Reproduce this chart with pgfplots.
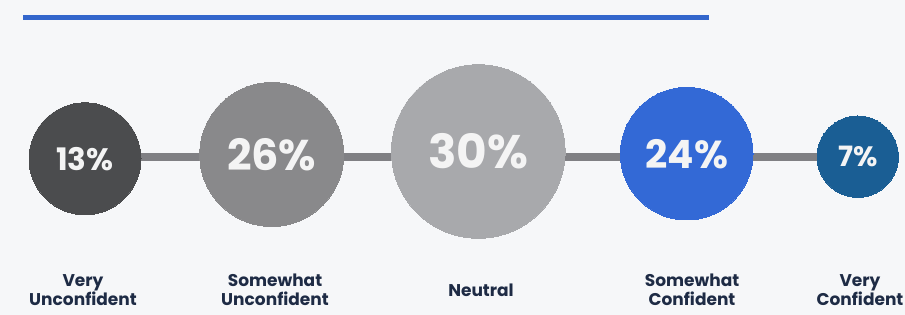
\documentclass[border=0pt]{standalone}
\usepackage{pgfplots}
\pgfplotsset{compat=1.18}
\usepackage{fontspec}
\setmainfont{Poppins}
\definecolor{bg}{HTML}{F6F7F9}
\definecolor{topblue}{HTML}{3366CC}
\definecolor{cA}{HTML}{4B4C4E}
\definecolor{cB}{HTML}{89898B}
\definecolor{cC}{HTML}{A8A9AC}
\definecolor{cD}{HTML}{3369D6}
\definecolor{cE}{HTML}{1A5E94}
\definecolor{conn}{HTML}{808084}
\definecolor{lab}{HTML}{1E2B45}
\definecolor{pct}{HTML}{F4F4F4}
\newcommand{\pc}[2]{\fontsize{#1}{#1}\selectfont\bfseries #2\%}
\begin{document}
\begin{tikzpicture}
\begin{axis}[
  scale only axis, width=905pt, height=315pt,
  xmin=0, xmax=905, ymin=0, ymax=315,
  axis background/.style={fill=bg},
  axis line style={draw=none},
  major tick length=0pt,
  ytick=\empty,
  xtick={83,275,481,692,860},
  xticklabels={{Very\\Unconfident},{Somewhat\\Unconfident},{Neutral},{Somewhat\\Confident},{Very\\Confident}},
  xticklabel style={align=center, anchor=center, yshift=25pt, text=lab,
    font=\fontsize{17}{19}\selectfont\bfseries},
  clip=false,
  nodes near coords align=center,
  every node near coord/.append style={text=pct, anchor=center},
]
\coordinate (sw) at (axis cs:0,0);
\coordinate (ne) at (axis cs:905,315);
% top accent line
\addplot[topblue, line width=5pt, line cap=butt] coordinates {(23,297.5) (709,297.5)};
% connector
\addplot[conn, line width=7.7pt] coordinates {(85,157.8) (857.7,157.8)};
% circles
\addplot[cA, only marks, mark=*, mark size=56pt, mark options={fill=cA, draw=cA, line width=0pt},
  nodes near coords={\pc{31}{13}}] coordinates {(85,156.2)};
\addplot[cB, only marks, mark=*, mark size=72pt, mark options={fill=cB, draw=cB, line width=0pt},
  nodes near coords={\pc{43}{26}}] coordinates {(271.7,160.5)};
\addplot[cC, only marks, mark=*, mark size=86.8pt, mark options={fill=cC, draw=cC, line width=0pt},
  nodes near coords={\pc{47}{30}}] coordinates {(478.3,163.5)};
\addplot[cD, only marks, mark=*, mark size=66.3pt, mark options={fill=cD, draw=cD, line width=0pt},
  nodes near coords={\pc{39}{24}}] coordinates {(686.7,161.3)};
\addplot[cE, only marks, mark=*, mark size=40.7pt, mark options={fill=cE, draw=cE, line width=0pt},
  nodes near coords={\pc{28}{7}}] coordinates {(857.7,158.3)};
\end{axis}
\pgfresetboundingbox
\path[use as bounding box] (sw) rectangle (ne);
\end{tikzpicture}
\end{document}
